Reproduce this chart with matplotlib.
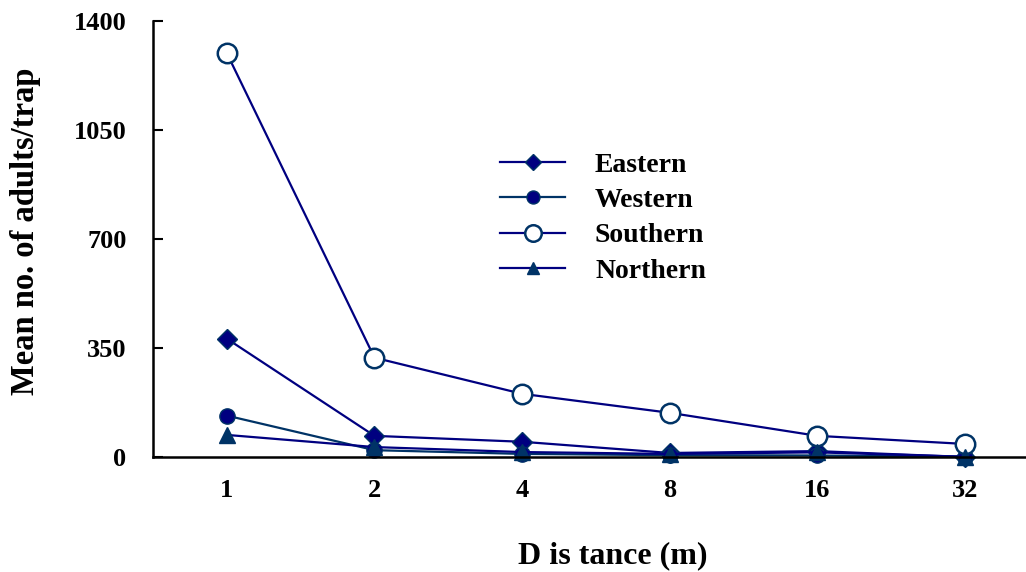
import matplotlib.pyplot as plt

plt.rcParams['font.family'] = ['Liberation Serif', 'DejaVu Serif']
plt.rcParams['font.weight'] = 'bold'

dist = ['1', '2', '4', '8', '16', '32']
eastern = [380, 68, 49, 13, 19, 0]
western = [133, 22, 10, 6, 5, 1]
southern = [1297, 319, 203, 142, 68, 42]
northern = [71, 32, 16, 10, 15, 1]

navy = '#000080'
dark = '#003366'

fig = plt.figure(figsize=(10.26, 5.72), dpi=100)
ax = fig.add_axes([0.1491, 0.2010, 0.8635, 0.7622])

xs = range(len(dist))
ax.plot(xs, eastern, color=navy, lw=1.6, marker='D', ms=10, mfc=navy, mec=dark,
        label='Eastern', clip_on=False)
ax.plot(xs, western, color=dark, lw=1.6, marker='o', ms=11, mfc=navy, mec=dark,
        label='Western', clip_on=False)
ax.plot(xs, southern, color=navy, lw=1.6, marker='o', ms=14, mfc='white', mec=dark,
        mew=1.8, label='Southern', clip_on=False)
ax.plot(xs, northern, color=navy, lw=1.6, marker='^', ms=11, mfc=dark, mec=dark,
        label='Northern', clip_on=False)

ax.set_xlim(-0.5, 5.5)
ax.set_ylim(0, 1400)
ax.set_xticks(list(xs))
ax.set_xticklabels(dist)
ax.set_yticks([0, 350, 700, 1050, 1400])
ax.tick_params(axis='x', length=0, pad=16, labelsize=19)
ax.tick_params(axis='y', direction='in', length=7, width=1.5, pad=19, labelsize=19)
ax.spines['top'].set_visible(False)
ax.spines['right'].set_visible(False)
ax.spines['left'].set_linewidth(1.8)
ax.spines['bottom'].set_linewidth(1.8)

fig.text(0.597, 0.003, 'D is tance (m)', ha='center', va='bottom', fontsize=23,
         fontweight='bold')

fig.text(26 / 1026, (572 - 395) / 572, 'Mean no. of adults/trap', rotation=90,
         ha='center', va='bottom', fontsize=23.5, fontweight='bold')

leg = ax.legend(loc='upper left', bbox_to_anchor=(500 / 1026, 0.734),
                bbox_transform=fig.transFigure, frameon=False, fontsize=20,
                handlelength=2.34, handletextpad=1.08, labelspacing=0.36,
                borderpad=0, borderaxespad=0, markerscale=0.85)

plt.savefig('out.png', dpi=100)
